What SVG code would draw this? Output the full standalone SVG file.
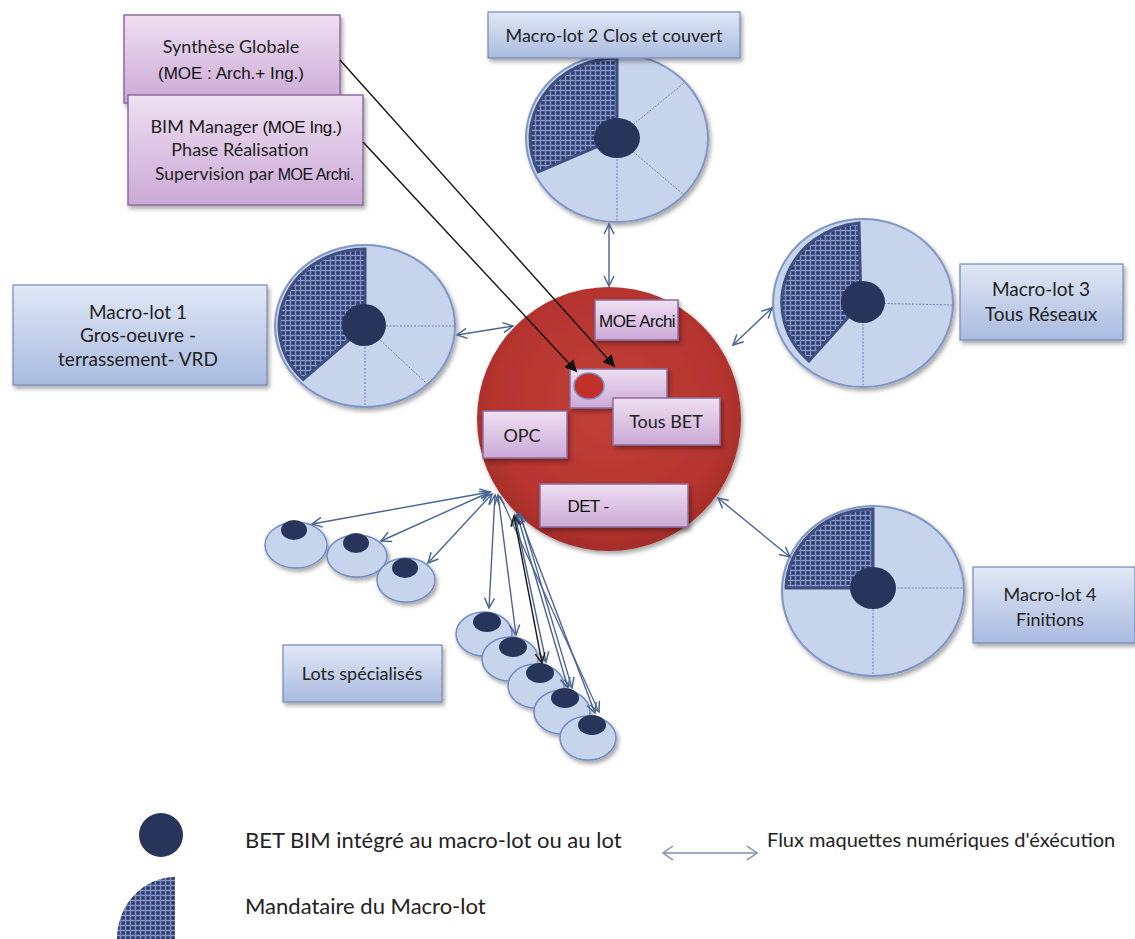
<svg xmlns="http://www.w3.org/2000/svg" width="1135" height="939" viewBox="0 0 1135 939">
<defs>
<linearGradient id="gBlue" x1="0" y1="0" x2="0" y2="1">
<stop offset="0" stop-color="#e1e8f5"/><stop offset="1" stop-color="#a9bbe0"/>
</linearGradient>
<linearGradient id="gPurple" x1="0" y1="0" x2="0" y2="1">
<stop offset="0" stop-color="#eee0f1"/><stop offset="1" stop-color="#cba9d6"/>
</linearGradient>
<radialGradient id="gRed" cx="0.5" cy="0.45" r="0.55">
<stop offset="0" stop-color="#c23f39"/><stop offset="0.8" stop-color="#b5342f"/><stop offset="1" stop-color="#a32d29"/>
</radialGradient>
<pattern id="hatch" width="5" height="5" patternUnits="userSpaceOnUse">
<rect width="5" height="5" fill="#46568a"/>
<rect x="0" y="0" width="5" height="1" fill="#8d9cca"/>
<rect x="0" y="0" width="1" height="5" fill="#7f8fc0"/>
<rect x="2" y="2" width="2" height="2" fill="#2c3864"/>
</pattern>
<filter id="sh" x="-10%" y="-10%" width="130%" height="140%">
<feDropShadow dx="2" dy="3" stdDeviation="2" flood-color="#000" flood-opacity="0.35"/>
</filter>
<marker id="open" markerUnits="userSpaceOnUse" markerWidth="14" markerHeight="14" refX="11" refY="6" orient="auto-start-reverse">
<path d="M1,1 L11,6 L1,11" fill="none" stroke="#4a6592" stroke-width="1.5"/>
</marker>
<marker id="openBk" markerUnits="userSpaceOnUse" markerWidth="14" markerHeight="14" refX="11" refY="6" orient="auto-start-reverse">
<path d="M1,1 L11,6 L1,11" fill="none" stroke="#222" stroke-width="1.5"/>
</marker>
<marker id="openLg" markerUnits="userSpaceOnUse" markerWidth="14" markerHeight="16" refX="11" refY="8" orient="auto-start-reverse">
<path d="M1,1 L11,8 L1,15" fill="none" stroke="#7d8db0" stroke-width="1.5"/>
</marker>
<marker id="solid" markerUnits="userSpaceOnUse" markerWidth="14" markerHeight="12" refX="12" refY="6" orient="auto">
<path d="M0,0 L12,6 L0,12 Z" fill="#111"/>
</marker>
</defs>
<style>
.box-b{fill:url(#gBlue);stroke:#7389b8;stroke-width:1.2;filter:url(#sh)}
.box-p{fill:url(#gPurple);stroke:#8d6c9d;stroke-width:1.5;filter:url(#sh)}
.pie{fill:#c6d4ec;stroke:#7f97c7;stroke-width:2;filter:url(#sh)}
.hat{fill:url(#hatch);stroke:#3f4f80;stroke-width:3}
.div{stroke:#6d82b0;stroke-width:1;stroke-dasharray:2 1.5;fill:none}
.dot{fill:#27355a}
.lot{fill:#c6d4ec;stroke:#6f8cc4;stroke-width:1.5;filter:url(#sh)}
.t{font-family:Lato,"Liberation Sans",sans-serif;fill:#222;text-anchor:middle}
.a{font-family:"Liberation Sans",Arial,sans-serif;fill:#111;text-anchor:middle}
.lg{font-family:Lato,"Liberation Sans",sans-serif;fill:#222}
.c{fill:none;stroke:#4a6592;stroke-width:1.4;marker-start:url(#open);marker-end:url(#open)}
.c1{fill:none;stroke:#4a6592;stroke-width:1.3;marker-end:url(#open)}
.bk{fill:none;stroke:#111;stroke-width:1.4;marker-end:url(#solid)}
</style>

<g id="centre">
<circle cx="609" cy="419" r="132" fill="url(#gRed)" filter="url(#sh)"/>
</g>

<g id="macrolot2-pie">
<ellipse class="pie" cx="617" cy="138" rx="91" ry="84"/>
<path class="hat" d="M617,138 L538.2,171.8 A87 80 0 0 1 617,58 Z"/>
<line class="div" x1="617" y1="138" x2="617" y2="222"/>
<line class="div" x1="617" y1="138" x2="684" y2="83"/>
<line class="div" x1="617" y1="138" x2="684" y2="195"/>
<ellipse class="dot" cx="617" cy="138" rx="23" ry="20"/>
</g>
<g id="macrolot2-box">
<rect class="box-b" x="488" y="12" width="252" height="46"/>
<text class="t" x="614" y="42" font-size="18">Macro-lot 2 Clos et couvert</text>
</g>

<g id="macrolot1-pie">
<ellipse class="pie" cx="365" cy="326" rx="90" ry="81"/>
<path class="hat" d="M365,326 L303.2,379.5 A86 77 0 0 1 365,249 Z"/>
<line class="div" x1="365" y1="326" x2="455" y2="326"/>
<line class="div" x1="365" y1="326" x2="427.5" y2="384.3"/>
<line class="div" x1="365" y1="326" x2="365" y2="407"/>
<ellipse class="dot" cx="364" cy="325" rx="22" ry="21"/>
</g>
<g id="macrolot1-box">
<rect class="box-b" x="13" y="285" width="254" height="100"/>
<text class="t" x="138" y="319" font-size="19">Macro-lot 1</text>
<text class="t" x="138" y="342" font-size="19">Gros-oeuvre -</text>
<text class="t" x="138" y="366" font-size="19">terrassement- VRD</text>
</g>

<g id="macrolot3-pie">
<ellipse class="pie" cx="863" cy="303" rx="90" ry="84"/>
<path class="hat" d="M861,303 L809,361 A86 80 0 0 1 859,223 Z"/>
<line class="div" x1="863" y1="303" x2="953" y2="305"/>
<line class="div" x1="863" y1="303" x2="863" y2="387"/>
<ellipse class="dot" cx="863" cy="302" rx="22" ry="21"/>
</g>
<g id="macrolot3-box">
<rect class="box-b" x="960" y="264" width="163" height="76"/>
<text class="t" x="1041" y="296" font-size="19">Macro-lot 3</text>
<text class="t" x="1041" y="321" font-size="19">Tous Réseaux</text>
</g>

<g id="macrolot4-pie">
<ellipse class="pie" cx="873" cy="591" rx="91" ry="85"/>
<path class="hat" d="M873,588 L786,588 A87 81 0 0 1 873,509 Z"/>
<line class="div" x1="873" y1="588" x2="964" y2="588"/>
<line class="div" x1="873" y1="588" x2="873" y2="676"/>
<ellipse class="dot" cx="873" cy="588" rx="23" ry="21"/>
</g>
<g id="macrolot4-box">
<rect class="box-b" x="973" y="567" width="162" height="76"/>
<text class="t" x="1050" y="601" font-size="18">Macro-lot 4</text>
<text class="t" x="1050" y="626" font-size="18">Finitions</text>
</g>

<g id="lots-gauche">
<ellipse class="lot" cx="296" cy="545" rx="31" ry="23"/>
<ellipse class="dot" cx="294" cy="530" rx="13" ry="10"/>
<ellipse class="lot" cx="357" cy="556" rx="30" ry="21"/>
<ellipse class="dot" cx="356" cy="543" rx="13" ry="10"/>
<ellipse class="lot" cx="406" cy="580" rx="29" ry="22"/>
<ellipse class="dot" cx="405" cy="568" rx="13" ry="10"/>
</g>
<g id="lots-bas">
<ellipse class="lot" cx="484" cy="634" rx="28" ry="22"/>
<ellipse class="dot" cx="487" cy="622" rx="14" ry="10"/>
<ellipse class="lot" cx="510" cy="659" rx="28" ry="22"/>
<ellipse class="dot" cx="513" cy="647" rx="14" ry="10"/>
<ellipse class="lot" cx="536" cy="686" rx="28" ry="22"/>
<ellipse class="dot" cx="540" cy="673" rx="14" ry="10"/>
<ellipse class="lot" cx="562" cy="712" rx="28" ry="22"/>
<ellipse class="dot" cx="565" cy="698" rx="14" ry="10"/>
<ellipse class="lot" cx="588" cy="738" rx="28" ry="22"/>
<ellipse class="dot" cx="592" cy="725" rx="14" ry="10"/>
</g>
<g id="lots-box">
<rect class="box-b" x="283" y="645" width="159" height="57"/>
<text class="t" x="362" y="680" font-size="18">Lots spécialisés</text>
</g>

<g id="moe-archi">
<rect class="box-p" x="595" y="300" width="83" height="40"/>
<text class="a" x="637" y="327" font-size="17" letter-spacing="-0.6">MOE Archi</text>
</g>
<g id="bim-cible">
<rect class="box-p" x="570" y="369" width="97" height="39"/>
<ellipse cx="589" cy="386" rx="15" ry="13" fill="#c3302a" stroke="#7d8fc0" stroke-width="1.5"/>
</g>
<g id="tous-bet">
<rect class="box-p" x="613" y="398" width="107" height="47"/>
<text class="t" x="666" y="428" font-size="18">Tous BET</text>
</g>
<g id="opc">
<rect class="box-p" x="483" y="411" width="84" height="47"/>
<text class="t" x="522" y="442" font-size="18">OPC</text>
</g>
<g id="det">
<rect class="box-p" x="540" y="484" width="148" height="43"/>
<text class="a" x="588" y="512" font-size="17" letter-spacing="-0.6">DET -</text>
</g>

<g id="synthese">
<rect class="box-p" x="124" y="15" width="216" height="88"/>
<text class="t" x="231" y="53" font-size="18">Synthèse Globale</text>
<text class="a" x="231" y="79" font-size="17">(MOE : Arch.+ Ing.)</text>
</g>
<g id="bim-manager">
<rect class="box-p" x="128" y="95" width="235" height="110"/>
<text x="246" y="133" text-anchor="middle"><tspan font-family="Lato, sans-serif" fill="#222" font-size="18">BIM Manager  </tspan><tspan font-family="'Liberation Sans', sans-serif" fill="#111" font-size="17" letter-spacing="-0.4">(MOE Ing.)</tspan></text>
<text class="t" x="240" y="156" font-size="18">Phase Réalisation</text>
<text x="155" y="180"><tspan font-family="Lato, sans-serif" fill="#222" font-size="17.5">Supervision par </tspan><tspan font-family="'Liberation Sans', sans-serif" fill="#111" font-size="16" letter-spacing="-0.5">MOE Archi.</tspan></text>
</g>

<g id="connecteurs">
<line class="c" x1="609" y1="224" x2="609" y2="286"/>
<line class="c" x1="457" y1="335" x2="513" y2="326"/>
<line class="c" x1="733" y1="345" x2="772" y2="308"/>
<line class="c" x1="718" y1="498" x2="790" y2="557"/>
<line class="c" x1="490" y1="492" x2="312" y2="524"/>
<line class="c" x1="490" y1="492" x2="381" y2="541"/>
<line class="c" x1="492" y1="494" x2="428" y2="563"/>
<line class="c" x1="495" y1="495" x2="489" y2="608"/>
<line class="c" x1="498" y1="495" x2="516" y2="635"/>
<line class="c" x1="515" y1="515" x2="546" y2="662"/>
<line class="c" x1="517" y1="514" x2="568" y2="688"/>
<line class="c1" x1="520" y1="513" x2="572" y2="688"/>
<line class="c" x1="519" y1="514" x2="595" y2="713"/>
<line class="c1" x1="500" y1="496" x2="599" y2="712"/>
<line x1="514" y1="516" x2="542" y2="663" fill="none" stroke="#1a1a1a" stroke-width="1.4" marker-start="url(#openBk)" marker-end="url(#openBk)"/>
<line class="bk" x1="340" y1="60" x2="615" y2="367"/>
<line class="bk" x1="363" y1="142" x2="577" y2="372"/>
</g>

<g id="legende">
<ellipse class="dot" cx="161" cy="835" rx="22" ry="22"/>
<text class="lg" x="245" y="848" font-size="22">BET BIM intégré au macro-lot ou au lot</text>
<line x1="663" y1="853" x2="757" y2="853" stroke="#7d8db0" stroke-width="1.5" marker-start="url(#openLg)" marker-end="url(#openLg)"/>
<text class="lg" x="767" y="847" font-size="20">Flux maquettes numériques d'éxécution</text>
<path d="M175,877 A58 62 0 0 0 117,939 L175,939 Z" fill="url(#hatch)"/>
<text class="lg" x="245" y="914" font-size="22">Mandataire du Macro-lot</text>
</g>
</svg>
